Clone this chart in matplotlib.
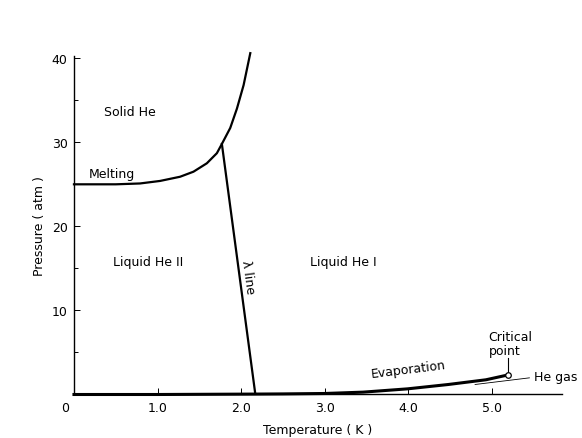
import matplotlib
matplotlib.use("Agg")
import matplotlib.pyplot as plt

plt.rcParams['font.family'] = ['DejaVu Sans']

# melting curve (solid / liquid boundary)
melt_T = [0.0, 0.5, 0.79, 1.03, 1.27, 1.43, 1.59, 1.71, 1.77, 1.87, 1.95, 2.03, 2.11]
melt_P = [25.0, 25.0, 25.1, 25.4, 25.9, 26.5, 27.5, 28.7, 29.8, 31.7, 34.0, 36.8, 40.6]

# lambda line between He II and He I
lam_T = [1.77, 2.17]
lam_P = [29.8, 0.05]

# saturated vapour pressure curve up to the critical point
evap_T = [0.0, 1.0, 2.17, 2.5, 3.0, 3.46, 3.99, 4.48, 4.93, 5.2]
evap_P = [0.0, 0.0, 0.05, 0.07, 0.12, 0.28, 0.67, 1.19, 1.75, 2.34]

crit_T, crit_P = 5.2, 2.34

xticks = [1.0, 2.0, 3.0, 4.0, 5.0]
xtick_labels = ['1.0', '2.0', '3.0', '4.0', '5.0']
yticks = [10, 20, 30, 40]
ytick_labels = ['10', '20', '30', '40']

fig = plt.figure(figsize=(5.82, 4.39), dpi=100)
ax = fig.add_axes([0.1271, 0.0991, 0.8385, 0.7718])

ax.plot(melt_T, melt_P, color='black', lw=1.6, clip_on=False)
ax.plot(lam_T, lam_P, color='black', lw=1.6)
ax.plot(evap_T, evap_P, color='black', lw=2.2, clip_on=False)
ax.plot([crit_T], [crit_P], marker='o', ms=4, mfc='white', mec='black', mew=0.9, zorder=5)

ax.set_xlim(0, 5.84)
ax.set_ylim(0, 40.3)

for side in ['top', 'right']:
    ax.spines[side].set_visible(False)
ax.spines['left'].set_linewidth(1.0)
ax.spines['bottom'].set_linewidth(1.0)

ax.set_xticks(xticks)
ax.set_xticklabels(xtick_labels)
ax.set_yticks(yticks)
ax.set_yticklabels(ytick_labels)
ax.set_yticks([5, 15, 25, 35], minor=True)
ax.tick_params(axis='both', direction='in', length=4, width=0.7, labelsize=9, pad=4.5)
ax.tick_params(axis='y', which='minor', direction='in', length=3, width=0.7)
ax.text(-0.1, -1.5, '0', fontsize=9, ha='center', va='center')

ax.set_xlabel('Temperature ( K )', fontsize=9, labelpad=7)
ax.set_ylabel('Pressure ( atm )', fontsize=9, labelpad=4)

# region and curve labels
ax.text(0.67, 33.7, 'Solid He', fontsize=9, ha='center', va='center')
ax.text(0.45, 26.3, 'Melting', fontsize=9, ha='center', va='center')
ax.text(0.89, 15.8, 'Liquid He II', fontsize=9, ha='center', va='center')
ax.text(3.22, 15.8, 'Liquid He I', fontsize=9, ha='center', va='center')
ax.text(2.08, 14.0, 'λ line', fontsize=9, ha='center', va='center', rotation=-82)
ax.text(4.0, 3.05, 'Evaporation', fontsize=9, ha='center', va='center', rotation=7)

# critical point callout
ax.plot([crit_T, crit_T], [crit_P + 0.3, 4.3], color='black', lw=0.8)
ax.text(4.96, 4.5, 'Critical\npoint', fontsize=9, ha='left', va='bottom', linespacing=1.1)

# He gas callout
ax.plot([4.8, 5.45], [1.19, 1.98], color='black', lw=0.6)
ax.text(5.51, 2.1, 'He gas', fontsize=9, ha='left', va='center', clip_on=False)

fig.savefig('out.png', dpi=100)
